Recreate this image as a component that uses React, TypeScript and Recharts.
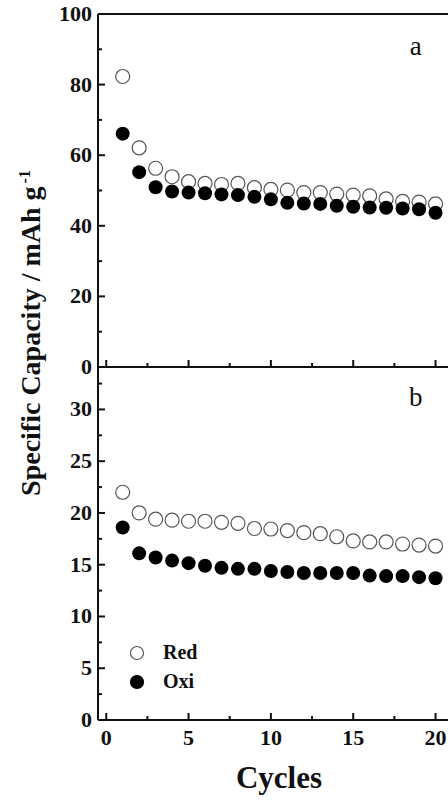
import { ScatterChart, Scatter, XAxis, YAxis, Legend, ReferenceDot } from 'recharts'

const cycles = [1, 2, 3, 4, 5, 6, 7, 8, 9, 10, 11, 12, 13, 14, 15, 16, 17, 18, 19, 20]

// panel a
const redA = [82.3, 62.1, 56.3, 53.9, 52.5, 52.0, 51.7, 52.0, 50.8, 50.3, 50.1, 49.4, 49.4, 49.0, 48.7, 48.5, 47.6, 46.9, 46.7, 46.2]
const oxiA = [66.1, 55.2, 50.9, 49.7, 49.4, 49.2, 48.9, 48.7, 48.2, 47.5, 46.5, 46.3, 46.2, 45.7, 45.4, 45.2, 45.1, 44.9, 44.7, 43.7]

// panel b
const redB = [22.0, 20.0, 19.4, 19.3, 19.2, 19.2, 19.1, 19.0, 18.5, 18.45, 18.3, 18.1, 18.0, 17.7, 17.3, 17.2, 17.2, 17.0, 16.9, 16.8]
const oxiB = [18.6, 16.1, 15.7, 15.4, 15.15, 14.9, 14.7, 14.6, 14.6, 14.4, 14.3, 14.2, 14.2, 14.2, 14.2, 13.95, 13.9, 13.9, 13.8, 13.7]

const legendNames = ['Red', 'Oxi']

const xTicks = [0, 2.5, 5, 7.5, 10, 12.5, 15, 17.5, 20]
const yTicksA = [0, 10, 20, 30, 40, 50, 60, 70, 80, 90, 100]
const yTicksB = [0, 2.5, 5, 7.5, 10, 12.5, 15, 17.5, 20, 22.5, 25, 27.5, 30, 32.5]

const FONT = "'Liberation Serif', 'Times New Roman', serif"
const INK = '#111'

const toPoints = (ys: number[]) => cycles.map((c, i) => ({ cycle: c, cap: ys[i] }))

// ticks point into the plot, labels sit outside
function makeTick(side: string, step: number, labels: boolean) {
  return (props: any) => {
    const { x, y, payload } = props
    const v = payload.value
    const major = Math.abs(v / step - Math.round(v / step)) < 1e-6
    const len = major ? 7 : 4
    let x2 = x
    let y2 = y
    if (side === 'left') x2 = x + len
    if (side === 'right') x2 = x - len
    if (side === 'bottom') y2 = y - len
    if (side === 'top') y2 = y + len
    return (
      <g>
        <line x1={x} y1={y} x2={x2} y2={y2} stroke={INK} strokeWidth={2} />
        {labels && major && side === 'left' && (
          <text x={x - 6} y={y + 7} textAnchor="end" fontFamily={FONT} fontWeight={700} fontSize={22} fill={INK}>
            {v}
          </text>
        )}
        {labels && major && side === 'bottom' && (
          <text x={x} y={y + 25} textAnchor="middle" fontFamily={FONT} fontWeight={700} fontSize={22} fill={INK}>
            {v}
          </text>
        )}
      </g>
    )
  }
}

const openDot = (p: any) => <circle cx={p.cx} cy={p.cy} r={7} fill="#fff" stroke="#555" strokeWidth={1.2} />
const fullDot = (p: any) => <circle cx={p.cx} cy={p.cy} r={7} fill="#000" />

const panelLetter = (letter: string) => (p: any) => (
  <text x={p.viewBox.x} y={p.viewBox.y} textAnchor="middle" fontFamily={FONT} fontSize={27} fill={INK}>
    {letter}
  </text>
)

const legendContent = () => (
  <svg width={110} height={60}>
    {legendNames.map((name, i) => (
      <g key={name}>
        <circle
          cx={12}
          cy={13 + i * 29}
          r={6.5}
          fill={name === 'Red' ? '#fff' : '#000'}
          stroke={name === 'Red' ? '#555' : '#000'}
          strokeWidth={1.2}
        />
        <text x={38} y={19 + i * 29} fontFamily={FONT} fontWeight={700} fontSize={20} fill={INK}>
          {name}
        </text>
      </g>
    ))}
  </svg>
)

const axisLine = { stroke: INK, strokeWidth: 2 }

function Panel({ red, oxi, domain, yTicks, step, top, height, margin, letter, letterPos, bottomLabels }: any) {
  return (
    <div style={{ position: 'absolute', left: 0, top }}>
      <ScatterChart width={470} height={height} margin={margin}>
        <XAxis
          xAxisId="bottom"
          type="number"
          dataKey="cycle"
          domain={[-0.5, 21]}
          ticks={xTicks}
          interval={0}
          height={1}
          tickSize={0}
          tickMargin={0}
          tickLine={false}
          axisLine={axisLine}
          tick={makeTick('bottom', 5, bottomLabels)}
          label={
            bottomLabels
              ? {
                  content: (p: any) => (
                    <text
                      x={p.viewBox.x + p.viewBox.width / 2 + 4}
                      y={p.viewBox.y + 68}
                      textAnchor="middle"
                      fontFamily={FONT}
                      fontWeight={700}
                      fontSize={31}
                      fill={INK}
                    >
                      Cycles
                    </text>
                  ),
                }
              : undefined
          }
        />
        <XAxis
          xAxisId="top"
          orientation="top"
          type="number"
          dataKey="cycle"
          domain={[-0.5, 21]}
          ticks={xTicks}
          interval={0}
          height={1}
          tickSize={0}
          tickMargin={0}
          tickLine={false}
          axisLine={axisLine}
          tick={makeTick('top', 5, false)}
        />
        <YAxis
          yAxisId="left"
          type="number"
          dataKey="cap"
          domain={domain}
          ticks={yTicks}
          interval={0}
          width={98}
          tickSize={0}
          tickMargin={0}
          tickLine={false}
          axisLine={axisLine}
          tick={makeTick('left', step, true)}
        />
        <YAxis
          yAxisId="right"
          orientation="right"
          type="number"
          dataKey="cap"
          domain={domain}
          ticks={yTicks}
          interval={0}
          width={1}
          tickSize={0}
          tickMargin={0}
          tickLine={false}
          axisLine={axisLine}
          tick={makeTick('right', step, false)}
        />
        <Scatter
          name="Red"
          data={toPoints(red)}
          xAxisId="bottom"
          yAxisId="left"
          shape={openDot}
          isAnimationActive={false}
        />
        <Scatter
          name="Oxi"
          data={toPoints(oxi)}
          xAxisId="bottom"
          yAxisId="left"
          shape={fullDot}
          isAnimationActive={false}
        />
        <ReferenceDot
          x={letterPos[0]}
          y={letterPos[1]}
          xAxisId="bottom"
          yAxisId="left"
          r={0}
          fill="none"
          stroke="none"
          label={{ content: panelLetter(letter) }}
        />
        {bottomLabels && (
          <Legend
            layout="horizontal"
            verticalAlign="middle"
            align="center"
            content={legendContent}
            wrapperStyle={{ left: 125, top: 290, width: 110 }}
          />
        )}
      </ScatterChart>
    </div>
  )
}

export default function App() {
  return (
    <div
      style={{
        position: 'absolute',
        left: 0,
        top: 0,
        width: 448,
        height: 800,
        overflow: 'hidden',
        background: '#fff',
      }}
    >
      <Panel
        red={redA}
        oxi={oxiA}
        domain={[0, 100]}
        yTicks={yTicksA}
        step={20}
        top={0}
        height={380}
        margin={{ top: 13, right: 17, bottom: 12, left: 0 }}
        letter="a"
        letterPos={[18.8, 88.4]}
        bottomLabels={false}
      />
      <Panel
        red={redB}
        oxi={oxiB}
        domain={[0, 34.1]}
        yTicks={yTicksB}
        step={5}
        top={350}
        height={450}
        margin={{ top: 16, right: 17, bottom: 79, left: 0 }}
        letter="b"
        letterPos={[18.8, 30.3]}
        bottomLabels={true}
      />
      <div
        style={{
          position: 'absolute',
          left: 31,
          top: 333,
          transform: 'translate(-50%, -50%) rotate(-90deg)',
          fontFamily: FONT,
          fontWeight: 700,
          fontSize: 28,
          lineHeight: 1,
          whiteSpace: 'nowrap',
          color: INK,
        }}
      >
        Specific Capacity / mAh g<sup style={{ fontSize: 16, marginLeft: 3 }}>-1</sup>
      </div>
    </div>
  )
}
